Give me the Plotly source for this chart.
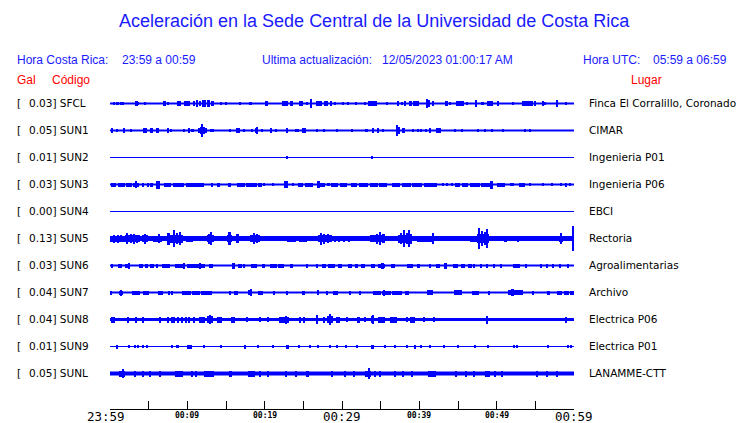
import plotly.graph_objects as go

# ---------------- data ----------------
codes = ["SFCL", "SUN1", "SUN2", "SUN3", "SUN4", "SUN5", "SUN6", "SUN7", "SUN8", "SUN9", "SUNL"]
gal = [0.03, 0.05, 0.01, 0.03, 0.00, 0.13, 0.03, 0.04, 0.04, 0.01, 0.05]
places = ["Finca El Corralillo, Coronado", "CIMAR", "Ingenieria P01", "Ingenieria P06", "EBCI",
          "Rectoria", "Agroalimentarias", "Archivo", "Electrica P06", "Electrica P01", "LANAMME-CTT"]

tick_minutes = [0, 10, 20, 30, 40, 50, 60]
tick_labels = ["23:59", "00:09", "00:19", "00:29", "00:39", "00:49", "00:59"]
tick_major = [True, False, False, True, False, False, True]

# bursts: (start minute, end minute, half amplitude) read from the record
bursts_sfcl = [(0.5,0.7,1),(0.9,1.1,1),(1.3,1.5,1),(1.6,1.8,1),(3.2,3.6,2),(3.6,3.8,1),(4.4,4.6,1),(6.8,7.2,2),(7.4,7.6,1),
    (8.6,9.2,2),(9.6,10.4,2),(10.8,11.0,2),(11.1,11.4,3),(11.5,11.8,2),(11.9,12.4,3),(12.5,12.9,3),(13.0,13.4,2),(14.3,14.5,1),
    (14.9,15.1,1),(16.7,16.9,1),(18.1,18.3,1),(20.0,20.4,2),(22.3,23.0,2),(23.4,23.6,2),(24.5,25.0,2),(25.4,25.6,1),(25.9,26.1,4),
    (26.7,27.4,2),(27.7,28.2,2),(28.5,28.7,2),(29.0,29.2,1),(30.0,30.2,1),(30.7,30.9,1),(31.8,32.0,1),(32.9,33.1,1),(33.3,34.5,2),
    (35.7,35.9,1),(37.1,37.4,2),(37.7,37.9,1),(38.0,38.3,2),(38.6,39.0,2),(39.2,39.9,2),(40.8,41.1,4),(41.2,41.4,3),(41.6,41.9,2),
    (43.3,43.7,2),(43.9,44.1,1),(44.8,45.8,2),(46.1,46.3,1),(47.2,47.4,3),(48.1,48.3,1),(48.8,49.5,2),(50.1,50.3,2),(52.0,52.2,1),
    (53.3,54.7,2),(54.9,55.1,2),(55.9,56.1,2),(56.2,56.4,1),(57.7,57.9,3),(58.9,59.1,1)]
bursts_sun1 = [(0.2,0.4,2),(0.8,1.0,1),(1.8,2.0,2),(2.6,2.8,1),(4.3,4.8,2),(5.3,5.5,2),(6.0,6.4,2),(7.4,7.6,2),(7.8,8.0,1),
    (9.5,9.7,1),(10.1,10.3,2),(10.6,10.8,1),(11.4,11.7,2),(11.7,11.85,3),(11.85,12.0,6),(12.0,12.3,3),(12.3,12.5,2),(13.0,13.2,1),
    (13.2,13.4,1),(15.5,15.7,1),(16.3,16.8,2),(17.2,17.4,1),(18.3,18.5,1),(18.7,19.0,2),(19.0,19.2,3),(19.6,19.8,1),(20.7,20.9,2),
    (21.4,21.6,1),(22.8,23.0,2),(24.0,24.2,1),(24.3,24.5,1),(24.9,25.1,2),(25.2,25.4,2),(26.7,26.9,1),(27.6,27.8,1),(29.3,29.5,1),
    (31.2,31.4,1),(33.1,33.3,1),(34.0,34.2,2),(34.6,34.8,2),(35.2,35.4,1),(37.1,37.3,5),(37.3,37.5,3),(37.7,38.1,2),(39.1,39.3,1),
    (39.7,39.9,1),(40.2,40.4,1),(40.8,41.0,1),(41.3,41.5,2),(42.2,42.8,2),(44.5,44.7,1),(45.4,45.6,1),(47.5,47.7,1),(48.4,48.6,1),
    (49.3,49.5,1),(50.7,50.9,1),(53.6,53.8,1),(54.2,54.4,1)]
bursts_sun2 = [(22.8,23.0,1),(33.8,34.0,1)]
bursts_sun3 = [(0.1,0.8,1.5),(1.0,1.9,1.5),(2.1,2.8,1.5),(3.0,3.7,1.5),(3.2,3.5,3),(4.2,4.4,1.5),(4.8,5.0,1.5),(5.3,5.5,1.5),
    (6.0,6.5,3.5),(7.0,7.9,1.5),(8.1,9.6,1.5),(9.8,10.8,1.5),(10.9,12.2,1.5),(13.1,13.3,1.5),(13.9,14.2,1.5),(15.2,15.6,1.5),
    (16.4,17.4,1.5),(17.6,19.0,1.5),(19.2,19.6,1.5),(19.9,20.1,1),(21.0,21.2,1),(22.5,23.0,3),(23.6,23.8,1),(24.3,25.0,1.5),
    (25.2,26.3,1.5),(26.8,27.2,3),(27.2,27.8,1.5),(28.1,28.4,1),(28.6,29.5,1.5),(29.7,30.6,1.5),(31.2,32.0,1.5),(32.2,33.4,1.5),
    (33.6,34.6,1.5),(34.8,35.8,1.5),(36.5,37.5,1.5),(37.7,38.9,1.5),(39.1,40.4,1.5),(40.6,42.3,1.5),(43.0,43.2,1),(43.5,43.7,1),
    (44.1,44.3,1),(44.6,45.3,1.5),(45.5,46.3,1.5),(46.6,47.9,1.5),(48.0,49.2,1.5),(49.2,49.5,3.5),(50.0,51.1,1.5),(51.7,52.3,1),
    (52.9,53.6,1.5),(54.2,54.4,1),(55.9,56.1,1),(57.1,57.3,1),(58.2,58.4,1),(58.8,59.1,1.5),(59.3,59.6,1)]
bursts_sun4 = []
bursts_sun5 = [(0.0,1.9,2.5),(0.4,0.6,3.5),(1.0,1.2,3.5),(1.4,1.6,3),(1.9,3.9,3),(2.1,2.3,5),(2.6,2.8,4),(3.0,3.2,4.5),(3.4,3.6,3.5),
    (4.1,4.9,3),(4.4,4.6,4.5),(5.6,6.7,2.5),(6.3,6.5,4),(7.4,9.4,3.5),(7.4,7.7,5.5),(8.2,8.4,8),(8.6,8.8,5),(9.0,9.2,6),
    (9.8,10.7,2.5),(11.6,12.1,2),(12.6,13.4,3),(12.7,12.9,4.5),(13.0,13.2,6),(15.1,15.8,3),(15.3,15.6,6),(16.3,16.7,4),
    (18.1,19.4,3),(18.5,18.7,5),(18.9,19.1,4),(20.2,20.4,2),(21.2,21.4,2),(22.2,22.4,2),(22.9,24.0,2.5),(24.5,25.5,2.5),
    (26.9,28.7,3),(27.2,27.4,5.5),(27.6,27.8,4.5),(28.1,28.3,4),(29.0,29.2,2.5),(29.6,29.8,2.5),(30.2,30.4,2.5),(30.8,31.0,2.5),
    (31.6,31.8,2),(33.6,35.6,3),(34.4,34.6,4.5),(34.9,35.1,6),(35.3,35.5,4),(35.9,36.1,2),(37.2,39.1,3.5),(37.5,37.7,5),
    (37.9,38.1,8),(38.3,38.5,5),(38.6,38.8,8),(38.9,39.1,4.5),(39.7,41.7,2.5),(41.7,41.9,5),(42.8,43.4,2),(46.5,47.4,2.5),
    (47.5,49.0,4),(47.7,47.9,10),(48.0,48.2,7),(48.4,48.6,6),(48.7,48.9,9),(49.5,49.7,2),(50.2,50.4,2),(51.0,51.3,2.5),
    (51.8,52.0,2),(52.6,52.9,2.5),(53.2,53.4,2),(54.3,54.5,2),(55.0,55.2,2),(58.0,58.6,2.5),(58.3,58.5,5),(59.8,60.0,12)]
bursts_sun6 = [(0.1,0.4,1.5),(1.0,1.6,1.5),(1.9,2.6,1.5),(2.3,2.6,2.5),(3.8,4.3,1.5),(4.5,4.9,1.5),(5.2,5.7,1.5),(6.0,6.2,1.5),
    (6.7,7.8,1.5),(8.4,9.7,1.5),(9.4,9.7,2.5),(10.0,12.3,1.5),(11.6,11.8,2.5),(12.8,13.3,1.5),(15.8,16.2,2.5),(16.6,17.1,1.5),
    (17.3,17.5,1.5),(18.2,19.0,1.5),(19.7,20.0,1.5),(20.7,21.6,1.5),(21.7,22.5,1.5),(23.3,23.7,1.5),(25.4,25.6,1.5),(26.6,26.9,1.5),
    (27.4,27.9,1.5),(28.2,29.1,1.5),(29.5,30.0,1.5),(30.8,31.3,1.5),(31.7,32.1,1.5),(32.5,33.0,1.5),(33.8,34.3,1.5),(34.7,35.6,1.5),
    (35.1,35.4,2.5),(36.3,36.9,1.5),(38.4,39.2,1.5),(39.7,40.1,1.5),(41.3,41.5,1.5),(42.2,42.7,1.5),(43.2,43.6,2.5),(44.4,45.0,1.5),
    (45.4,45.9,1.5),(46.3,46.8,1.5),(47.0,47.2,1.5),(47.9,48.1,1.5),(48.6,48.9,1.5),(49.6,49.8,1.5),(50.5,50.7,1.5),(52.1,53.0,1.5),
    (53.7,53.9,1.5),(55.6,55.9,1.5),(56.4,56.6,1.5),(57.2,57.4,1.5),(58.1,58.3,1.5),(59.1,59.3,1.5)]
bursts_sun7 = [(0.0,0.3,1.5),(1.1,1.7,1.5),(1.3,1.6,2.5),(2.9,3.9,1.5),(4.3,5.1,1.5),(6.2,6.8,1.5),(7.5,7.7,1.5),(8.0,8.2,1.5),
    (9.3,10.5,1.5),(10.6,11.7,1.5),(11.8,13.2,1.5),(15.5,15.7,1.5),(16.0,16.6,1.5),(17.8,18.4,2),(18.2,18.4,3),(19.1,19.8,1.5),
    (21.2,21.4,1.5),(22.8,23.0,1.5),(24.8,25.2,1.5),(26.8,27.0,2),(28.0,28.2,1.5),(28.8,29.5,1.5),(31.0,31.2,1.5),(32.3,32.5,1.5),
    (34.0,35.0,1.5),(35.2,36.4,1.5),(35.3,35.6,2.5),(36.5,37.8,1.5),(38.2,38.6,1.5),(41.0,41.8,2),(44.5,45.5,2),(46.8,47.7,1.5),
    (48.9,49.1,1.5),(51.5,53.4,2),(51.9,52.2,3),(54.6,54.8,1.5),(56.5,56.9,1.5),(57.8,58.5,1.5),(58.7,59.3,1.5),(59.5,60.0,1.5)]
bursts_sun8 = [(0.2,0.4,2.5),(0.5,0.7,2.5),(2.3,2.5,2.5),(3.3,3.5,2.5),(4.2,4.4,2.5),(6.4,6.6,2.5),(7.4,7.6,2.5),(7.9,8.4,2.5),
    (8.7,8.9,2.5),(9.3,9.5,2.5),(9.8,10.0,2.5),(10.2,10.4,2.5),(10.8,11.0,2.5),(11.5,12.3,2.5),(12.6,13.3,3),(12.9,13.1,4),
    (13.9,14.5,2.5),(15.6,16.1,2.5),(17.6,17.8,2),(19.3,19.5,2),(20.4,20.6,2),(21.9,23.1,2.5),(22.7,22.9,3.5),(24.5,24.7,2.5),
    (25.0,25.2,2.5),(26.7,26.9,4),(27.6,27.8,2.5),(28.1,28.9,3),(28.4,28.6,5),(29.2,29.7,2.5),(30.6,30.8,2),(31.9,32.3,2.5),
    (32.9,33.1,2),(33.7,34.2,3),(33.9,34.1,4),(34.6,35.6,2.5),(36.2,37.1,2.5),(38.3,38.5,2),(38.8,39.4,2.5),(40.5,40.7,2),
    (41.8,42.0,2),(48.6,48.9,3.5),(58.9,59.1,2.5)]
bursts_sun9 = [(0.8,1.0,1.5),(2.4,2.6,1),(3.2,3.4,1),(3.5,3.7,1),(4.2,4.4,1),(4.7,4.9,1),(7.9,8.1,1),(8.5,8.9,1),(10.0,10.6,1.5),
    (12.1,12.3,1),(14.3,14.5,1),(17.4,17.6,1.5),(19.1,19.3,1),(21.0,21.2,1),(22.7,23.1,1.5),(24.4,24.6,1),(25.8,26.0,1),
    (26.8,27.0,1),(28.4,28.6,1),(29.3,29.5,1),(30.5,30.7,1),(31.9,32.1,1),(33.7,34.2,1.5),(35.5,35.7,1),(36.8,37.0,1),
    (38.3,38.5,1),(39.3,39.6,1.5),(40.1,40.3,1),(41.3,41.5,1),(43.1,43.3,1),(44.9,45.1,1),(47.1,47.3,1),(48.8,49.0,1),
    (52.2,52.4,1),(52.6,52.8,1),(56.6,56.8,1),(59.2,59.4,1),(59.5,59.7,1)]
bursts_sunl = [(1.2,2.0,2.5),(1.6,1.8,4),(3.2,3.4,2.5),(4.2,4.4,2.5),(5.1,5.3,2.5),(6.4,6.6,2.5),(8.4,9.5,2.5),(10.5,10.7,2.5),
    (11.1,11.3,2.5),(12.2,13.4,2.5),(15.4,15.8,2.5),(17.8,18.8,2.5),(19.3,19.5,2.5),(20.4,20.6,2.5),(22.7,22.9,2.5),(24.0,24.2,2.5),
    (25.3,25.7,2.5),(28.6,28.8,2.5),(30.3,30.5,2.5),(31.5,31.7,2.5),(33.0,33.8,2.5),(33.4,33.6,5),(34.2,34.4,2.5),(34.8,35.0,2.5),
    (36.8,37.0,2.5),(37.8,38.0,2.5),(39.0,39.2,2.5),(41.1,42.2,2.5),(44.7,44.9,2.5),(46.0,46.2,2.5),(47.0,47.2,2.5),(48.5,49.1,2.5),
    (49.7,49.9,2.5),(50.6,50.8,2.5),(55.2,55.4,2.5),(56.4,56.6,2.5),(57.7,57.9,2.5)]

all_bursts = [bursts_sfcl, bursts_sun1, bursts_sun2, bursts_sun3, bursts_sun4, bursts_sun5,
              bursts_sun6, bursts_sun7, bursts_sun8, bursts_sun9, bursts_sunl]

# ---------------- style ----------------
BLUE = "#0000ff"
TXT_BLUE = "#1a1aff"
RED = "#ff0000"
baseline_width = [2, 2, 1, 2, 1, 5, 2, 2, 3, 1, 4]
PEN = 0.5  # half pen width added to the burst envelope
W, H = 740, 423
ML, MR, MT, MB = 110, 166, 90, 14
SPACING = 27
FIRST = 13.5  # units from top of plot area to first trace centre
n = len(codes)
centers = [-i * SPACING for i in range(n)]
y_top = FIRST
y_bot = y_top - (H - MT - MB)

fig = go.Figure()
for i in range(n):
    c = centers[i]
    fig.add_trace(go.Scatter(x=[0, 60], y=[c, c], mode="lines",
                             line=dict(color=BLUE, width=baseline_width[i]),
                             hoverinfo="skip", showlegend=False))
    b = all_bursts[i]
    if b:
        fig.add_trace(go.Bar(
            x=[(s + e) / 2 for s, e, a in b],
            width=[e - s for s, e, a in b],
            base=[c - a - PEN for s, e, a in b],
            y=[2 * a + 2 * PEN for s, e, a in b],
            marker=dict(color=BLUE, line=dict(width=0)),
            hoverinfo="skip", showlegend=False))

def px2xp(px):
    return (px - ML) / (W - ML - MR)

def py2yp(py):
    return (H - MB - py) / (H - MT - MB)

ann = []
def text(px, py, s, color="black", size=12, family="Liberation Sans", xanchor="left"):
    ann.append(dict(x=px2xp(px), y=py2yp(py), xref="paper", yref="paper", text=s, showarrow=False,
                    xanchor=xanchor, yanchor="middle", font=dict(color=color, size=size, family=family)))

text(374.5, 21, "Aceleración en la Sede Central de la Universidad de Costa Rica", TXT_BLUE, 18, xanchor="center")
text(15, 60, "Hora Costa Rica:", TXT_BLUE, 12)
text(120, 60, "23:59 a 00:59", TXT_BLUE, 12)
text(260, 60, "Ultima actualización:", TXT_BLUE, 12)
text(380, 60, "12/05/2023 01:00:17 AM", TXT_BLUE, 12)
text(581, 60, "Hora UTC:", TXT_BLUE, 12)
text(651, 60, "05:59 a 06:59", TXT_BLUE, 12)
text(15, 80, "Gal", RED, 12)
text(50, 80, "Código", RED, 12)
text(646, 80, "Lugar", RED, 12, xanchor="center")

for i in range(n):
    for xx, s in [(15, "["), (27, f"{gal[i]:.2f}] {codes[i]}"), (587, places[i])]:
        ann.append(dict(x=px2xp(xx), y=centers[i], xref="paper", yref="y", text=s, showarrow=False,
                        xanchor="left", yanchor="middle", yshift=1,
                        font=dict(color="black", size=10.5, family="DejaVu Sans")))

for k, (t, lab, major) in enumerate(zip(tick_minutes, tick_labels, tick_major)):
    ann.append(dict(x=t, y=py2yp(416 if major else 415), xref="x", yref="paper",
                    text=lab if major else f"<b>{lab}</b>", showarrow=False,
                    xanchor="center", yanchor="middle", xshift=-4 if k == 0 else 0,
                    font=dict(color="black", size=12.5 if major else 8,
                              family="DejaVu Sans Mono")))

fig.update_layout(
    width=W, height=H, margin=dict(l=ML, r=MR, t=MT, b=MB, pad=0),
    paper_bgcolor="white", plot_bgcolor="white", barmode="overlay", bargap=0,
    showlegend=False, annotations=ann,
    xaxis=dict(range=[0, 60], showgrid=False, zeroline=False, showline=True, linecolor="black",
               linewidth=1, ticks="inside", ticklen=8, tickcolor="black", tickwidth=1,
               tick0=0, dtick=5, showticklabels=False, fixedrange=True),
    yaxis=dict(range=[y_bot, y_top], showgrid=False, zeroline=False, showline=False,
               showticklabels=False, ticks="", fixedrange=True),
)

fig.write_html("out.html", config={"displayModeBar": False},
               post_script="document.body.style.margin='0';document.body.style.overflow='hidden';")
